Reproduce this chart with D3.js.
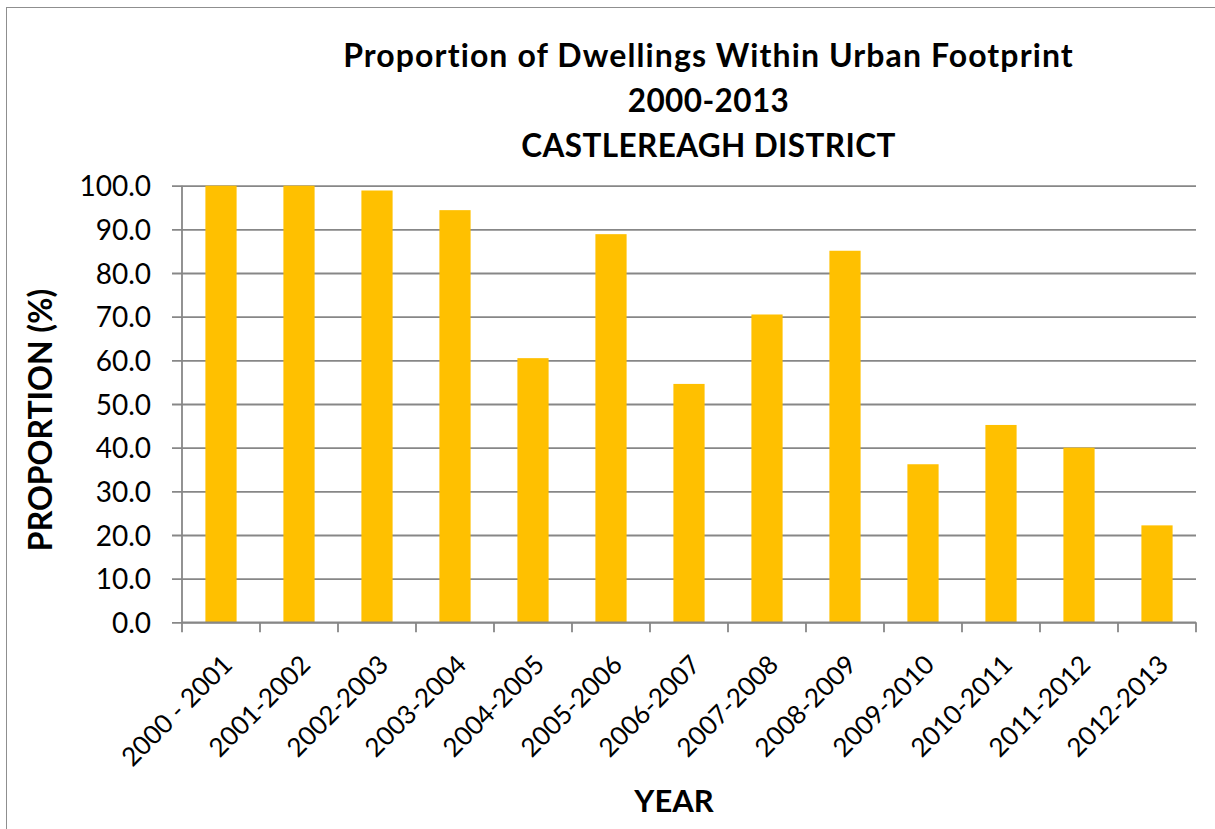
<!DOCTYPE html>
<html>
<head>
<meta charset="utf-8">
<script src="https://cdn.jsdelivr.net/npm/d3@7"></script>
<style>
  html, body { margin: 0; padding: 0; background: #ffffff; }
  svg { display: block; font-family: Lato, "Open Sans", sans-serif; font-variant-ligatures: none; }
</style>
</head>
<body>
<svg id="chart" width="1215" height="829"></svg>
<script>
// Financial years
const years = [
  "2000 - 2001", "2001-2002", "2002-2003", "2003-2004", "2004-2005",
  "2005-2006", "2006-2007", "2007-2008", "2008-2009", "2009-2010",
  "2010-2011", "2011-2012", "2012-2013"
];
// Share of new dwellings built inside the urban footprint (%)
const proportion = [100.0, 100.0, 98.9, 94.4, 60.5, 88.9, 54.6, 70.5, 85.1, 36.2, 45.2, 40.0, 22.2];
// Y axis ticks
const yTicks = [0, 10, 20, 30, 40, 50, 60, 70, 80, 90, 100];
const titleLines = ["Proportion of Dwellings Within Urban Footprint", "2000-2013", "CASTLEREAGH DISTRICT"];

const svg = d3.select("#chart");
const W = 1215, H = 829;
const plot = { left: 182, right: 1196, top: 185.7, bottom: 622.3 };
const gridColor = "#878787";

// outer chart frame
svg.append("rect")
  .attr("x", 6.5).attr("y", 7.5)
  .attr("width", W + 20).attr("height", H + 20)
  .attr("fill", "none").attr("stroke", "#8f8f8f").attr("stroke-width", 1);

const x = d3.scaleBand()
  .domain(years)
  .range([plot.left, plot.right])
  .paddingInner(0.6)
  .paddingOuter(0.3);

const y = d3.scaleLinear()
  .domain([0, 100])
  .range([plot.bottom, plot.top]);

// Y axis with horizontal gridlines
const yAxis = d3.axisLeft(y)
  .tickValues(yTicks)
  .tickFormat(d3.format(".1f"))
  .tickSize(-(plot.right - plot.left))
  .tickPadding(0);

const gy = svg.append("g")
  .attr("transform", `translate(${plot.left},0)`)
  .call(yAxis);
gy.select(".domain").remove();
gy.selectAll(".tick line")
  .attr("x1", -10)
  .attr("stroke", gridColor)
  .attr("stroke-width", 1.8);
gy.selectAll(".tick text")
  .attr("x", -31)
  .attr("dy", "0.36em")
  .attr("fill", "#000")
  .style("font-size", "28px")
  .style("font-family", "Lato, sans-serif");

// vertical axis line
svg.append("line")
  .attr("x1", plot.left).attr("x2", plot.left)
  .attr("y1", plot.top).attr("y2", plot.bottom)
  .attr("stroke", gridColor).attr("stroke-width", 1.8);

// bars
svg.append("g")
  .selectAll("rect")
  .data(years.map((k, i) => ({ k, v: proportion[i] })))
  .join("rect")
  .attr("x", d => x(d.k))
  .attr("width", x.bandwidth())
  .attr("y", d => y(d.v))
  .attr("height", d => y(0) - y(d.v))
  .attr("fill", "#FFC000");

// X axis: tick marks on band boundaries
const step = x.step();
const boundaries = d3.range(years.length + 1).map(i => plot.left + i * step);
const gx = svg.append("g");
gx.append("line")
  .attr("x1", plot.left).attr("x2", plot.right)
  .attr("y1", plot.bottom).attr("y2", plot.bottom)
  .attr("stroke", gridColor).attr("stroke-width", 1.8);
gx.selectAll("line.tick")
  .data(boundaries)
  .join("line")
  .attr("class", "tick")
  .attr("x1", d => d).attr("x2", d => d)
  .attr("y1", plot.bottom).attr("y2", plot.bottom + 10)
  .attr("stroke", gridColor).attr("stroke-width", 1.8);

// rotated category labels
gx.selectAll("text")
  .data(years)
  .join("text")
  .attr("transform", d => `translate(${x(d) + x.bandwidth() / 2 + 13},${plot.bottom + 44}) rotate(-45)`)
  .attr("text-anchor", "end")
  .attr("fill", "#000")
  .style("font-size", "26px")
  .text(d => d);

// chart title
svg.append("g")
  .selectAll("text")
  .data(titleLines)
  .join("text")
  .attr("x", 708.5)
  .attr("y", (d, i) => 66.5 + i * 45.2)
  .attr("text-anchor", "middle")
  .attr("fill", "#000")
  .style("font-size", (d, i) => i === 0 ? "32px" : "31.5px")
  .style("letter-spacing", (d, i) => i === 0 ? "1.1px" : "0.4px")
  .style("font-weight", "bold")
  .text(d => d);

// axis titles
svg.append("text")
  .attr("x", 674).attr("y", 812)
  .attr("text-anchor", "middle")
  .attr("fill", "#000")
  .style("font-size", "31px")
  .style("font-weight", "bold")
  .text("YEAR");

svg.append("text")
  .attr("transform", "translate(52,420) rotate(-90)")
  .attr("text-anchor", "middle")
  .attr("fill", "#000")
  .style("font-size", "32px")
  .style("font-weight", "bold")
  .text("PROPORTION (%)");
</script>
</body>
</html>
